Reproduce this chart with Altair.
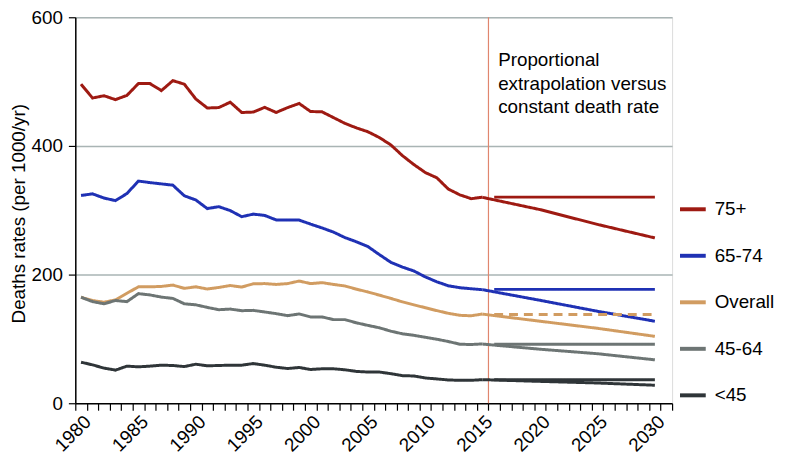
import altair as alt
import pandas as pd

# ---- data ----
groups = ["75+", "65-74", "Overall", "45-64", "<45"]
colors = ["#9E1A12", "#1F31B4", "#D19C61", "#6D7574", "#2F3538"]

hist_years = list(range(1980, 2016))
hist_75 = [496, 474.5, 478, 472, 478.6, 497, 497, 486, 501.5, 496,
           473, 459, 459.6, 468, 452, 452.6, 460, 452, 459.6, 466,
           453.5, 453, 444, 435, 428, 422, 413, 401.5, 385, 371,
           358.6, 350.5, 333, 324, 318, 320.4]
hist_65 = [323, 325.5, 319, 315, 326, 345.4, 343, 341, 339, 322.5,
           316, 302.6, 305.6, 299.5, 290, 294, 292, 285, 284.7, 284.7,
           278.5, 272.5, 266, 257.5, 251, 243.5, 231, 219, 211.7, 205.6,
           196.4, 188.8, 182.6, 179.6, 178, 176.5]
hist_overall = [164.8, 159.7, 157, 160.7, 171, 181, 181, 181.6, 183.7, 178.6,
                181, 177.6, 180, 183, 180.6, 185.7, 186, 184.7, 186, 190,
                186, 187.5, 184.7, 182.3, 177.3, 173, 168, 163, 157.6, 153,
                148.5, 144, 139.8, 136.7, 136, 138.8]
hist_45 = [164.8, 158, 154.6, 159.7, 158, 170.4, 168.4, 165, 163, 154.6,
           153, 149, 145.4, 146.4, 143.9, 144.4, 141.9, 139.3, 136.2, 138.8,
           134.2, 134.2, 130, 130, 125, 121, 117.3, 112, 108, 105.6,
           102.5, 99.5, 96, 91.8, 91.3, 92.3]
hist_lt45 = [63.8, 59.7, 54.6, 51.5, 57.7, 56.6, 57.7, 59.2, 58.7, 57,
             60.7, 58.2, 58.7, 59.2, 59.2, 61.7, 59.2, 56, 54, 55.6,
             52.5, 53.6, 53.6, 52, 49.5, 48.5, 48.5, 46, 42.9, 42.4,
             39.3, 37.8, 36.2, 35.7, 35.7, 36.7]

# proportional extrapolation (read at 2015, 2020, 2025, 2030)
prop_years = [2015, 2020, 2025, 2030]
prop_75 = [320, 301, 278, 257]
prop_65 = [176.5, 160, 143, 127.5]
prop_overall = [138.5, 127.5, 116.5, 104]
prop_45 = [92, 84, 77, 67.5]
prop_lt45 = [36.7, 34, 31.5, 28]

# constant death rate (2016-2030)
const_years = [2016, 2030]
const_vals = [320.4, 177, 138, 91.8, 36.7]

divider_year = [2015.5]
note_lines = ["Proportional", "extrapolation versus", "constant death rate"]
label_years = list(range(1980, 2031, 5))
minor_ticks = [1979.5 + i for i in range(53)]

# ---- build long table ----
hist = [hist_75, hist_65, hist_overall, hist_45, hist_lt45]
prop = [prop_75, prop_65, prop_overall, prop_45, prop_lt45]
rows = []
for g, h, p, c in zip(groups, hist, prop, const_vals):
    for y, v in zip(hist_years, h):
        rows.append({"year": y, "value": v, "group": g, "kind": "history"})
    for y, v in zip(prop_years, p):
        rows.append({"year": y, "value": v, "group": g, "kind": "proportional"})
    for y in const_years:
        rows.append({"year": y, "value": c, "group": g, "kind": "constant"})
df = pd.DataFrame(rows)

FONT = "Liberation Sans"
W, H = 603, 390

xscale = alt.Scale(domain=[1979.5, 2031.5], nice=False, zero=False)
yscale = alt.Scale(domain=[0, 600], nice=False)

tick_vals = sorted(minor_ticks + label_years)

xaxis = alt.Axis(
    values=tick_vals, tickCount=500, title=None, grid=False,
    labelExpr="datum.value % 5 == 0 ? datum.value : ''",
    labelAngle=-45, labelAlign="right", labelBaseline="top",
    labelFontSize=19, labelFont=FONT, labelColor="black",
    labelOverlap=False, labelFlush=False, labelBound=False, labelPadding=2,
    tickSize=7, tickColor="black", tickWidth=1.2,
    tickOpacity={"condition": {"test": "datum.value % 1 == 0", "value": 0}, "value": 1},
    domainColor="black", domainWidth=1.5,
)
yaxis = alt.Axis(
    values=[0, 200, 400, 600], tickCount=500, title="Deaths rates (per 1000/yr)",
    titleFontSize=19, titleFont=FONT, titleFontWeight="normal", titleColor="black",
    titleX=-57, titleY=198, titleAngle=-90, titleAlign="center", titleBaseline="middle",
    labelFontSize=19, labelFont=FONT, labelColor="black", labelPadding=6,
    labelOverlap=False, labelBound=False,
    tickSize=7, tickColor="black", tickWidth=1.2,
    domainColor="black", domainWidth=1.5,
    grid=True, gridColor="#A9B4B4", gridWidth=1.5,
    gridOpacity={"condition": {"test": "datum.value == 0", "value": 0}, "value": 1},
)

rule = alt.Chart(pd.DataFrame({"year": divider_year})).mark_rule(
    color="#E0866E", strokeWidth=1.2
).encode(x=alt.X("year:Q", scale=xscale, axis=xaxis))

lines = alt.Chart(df).mark_line(strokeWidth=3).encode(
    x=alt.X("year:Q", scale=xscale, axis=xaxis),
    y=alt.Y("value:Q", scale=yscale, axis=yaxis),
    color=alt.Color(
        "group:N",
        scale=alt.Scale(domain=groups, range=colors),
        sort=groups,
        legend=alt.Legend(
            title=None, orient="none", legendX=609, legendY=179,
            symbolType="stroke", symbolSize=676, symbolStrokeWidth=4,
            labelFontSize=19, labelFont=FONT, labelColor="black",
            labelOffset=7, rowPadding=22, padding=0,
        ),
    ),
    detail="kind:N",
    strokeDash=alt.condition(
        "datum.kind == 'constant' && datum.group == 'Overall'",
        alt.value([9, 6]), alt.value([1, 0])
    ),
    order="year:Q",
)

note = alt.Chart(pd.DataFrame({"year": [2016]})).mark_text(
    align="left", baseline="top", fontSize=19, font=FONT, color="black",
    lineHeight=24, dx=4
).encode(
    x=alt.X("year:Q", scale=xscale),
    y=alt.value(34),
    text=alt.value(note_lines),
)

chart = alt.layer(rule, lines, note).properties(
    width=W, height=H,
    autosize=alt.AutoSizeParams(type="none"),
    padding={"left": 68, "top": 7, "right": 106, "bottom": 58},
).configure_view(stroke=None).configure(font=FONT)

chart.save("out.html", embed_options={"renderer": "svg", "actions": False})
